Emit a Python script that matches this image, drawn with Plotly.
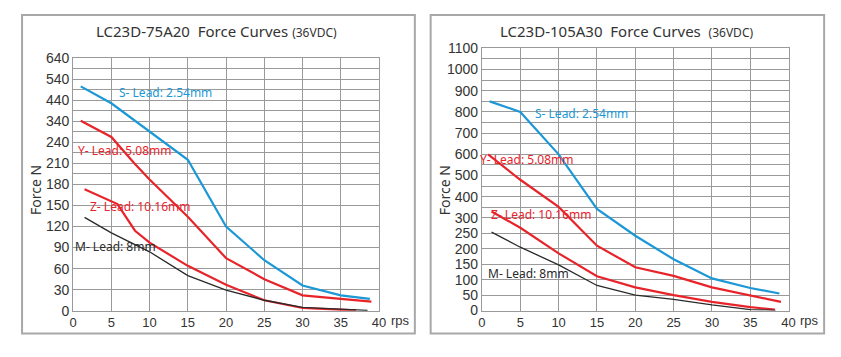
import numpy as np
import plotly.graph_objects as go

# ---------------- data ----------------
L_TICKS = [0, 30, 60, 90, 120, 150, 180, 210, 240, 340, 440, 540, 640]
R_TICKS = [0, 50, 100, 150, 200, 250, 300, 400, 500, 600, 700, 800, 900, 1000, 1100]
X_TICKS = [0, 5, 10, 15, 20, 25, 30, 35, 40]

# Left chart: LC23D-75A20
l_s_x = [1, 5, 15, 20, 25, 30, 35, 38.8]
l_s_y = [505, 425, 215, 120, 72, 36, 22, 17]
l_y_x = [1, 5, 8, 10, 15, 20, 25, 30, 35, 39]
l_y_y = [342, 265, 210, 187, 134, 75, 45, 22, 17, 13]
l_z_x = [1.5, 5.8, 8.1, 10, 15, 20, 25, 30, 37]
l_z_y = [173, 152, 114, 97, 64, 37, 15, 4, 0.5]
l_m_x = [1.5, 5, 10, 15, 20, 25, 30, 38.5]
l_m_y = [133, 111, 84, 50, 29.5, 15, 5, 0.5]

# Right chart: LC23D-105A30
r_s_x = [1, 5, 10, 15, 20, 25, 30, 35, 38.8]
r_s_y = [850, 800, 600, 342, 242, 166, 104, 73, 55]
r_y_x = [0.8, 5, 10, 15, 20, 25, 30, 35, 39]
r_y_y = [600, 480, 352, 210, 140, 112, 75, 49, 28]
r_z_x = [1.25, 5, 10, 15, 20, 25, 30, 35, 38.2]
r_z_y = [330, 268, 185, 111, 75, 50, 28, 11, 3]
r_m_x = [1.25, 5, 10, 15, 20, 25, 30, 35, 38.3]
r_m_y = [254, 205, 148, 81, 50, 36, 18, 3, 0.5]

LABELS = ["S- Lead: 2.54mm", "Y- Lead: 5.08mm", "Z- Lead: 10.16mm", "M- Lead: 8mm"]

# ---------------- scales (piecewise axis) ----------------
L_POS = list(range(len(L_TICKS)))
R_STEP_UP = 1.372
R_POS = [0, 1, 2, 3, 4, 5, 6] + [6 + R_STEP_UP * k for k in range(1, 9)]


def lmap(v):
    return np.interp(np.asarray(v, dtype=float), L_TICKS, L_POS)


def rmap(v):
    return np.interp(np.asarray(v, dtype=float), R_TICKS, R_POS)


BLUE = "#1b98d5"
RED = "#e8242b"
BLACK = "#2a2a2a"
GRID = "#9a9a9a"
TXT = "#333333"

W, H = 841, 357


def px(x):
    return x / W


def py(y):
    return 1 - y / H


fig = go.Figure()

series = [
    ("x", "y", l_s_x, lmap(l_s_y), BLUE, 2.2),
    ("x", "y", l_y_x, lmap(l_y_y), RED, 2.2),
    ("x", "y", l_z_x, lmap(l_z_y), RED, 2.2),
    ("x", "y", l_m_x, lmap(l_m_y), BLACK, 1.3),
    ("x2", "y2", r_s_x, rmap(r_s_y), BLUE, 2.2),
    ("x2", "y2", r_y_x, rmap(r_y_y), RED, 2.2),
    ("x2", "y2", r_z_x, rmap(r_z_y), RED, 2.2),
    ("x2", "y2", r_m_x, rmap(r_m_y), BLACK, 1.3),
]
for xa, ya, xs, ys, c, w in series:
    fig.add_trace(go.Scatter(x=xs, y=ys, xaxis=xa, yaxis=ya, mode="lines",
                             line=dict(color=c, width=w), showlegend=False,
                             hoverinfo="skip"))

tickfont = dict(family="Liberation Sans, Arial, sans-serif", size=13, color=TXT)
ytickfont = dict(family="Liberation Sans, Arial, sans-serif", size=14, color=TXT)

xcommon = dict(range=[0, 40], tickvals=X_TICKS, ticktext=[str(v) for v in X_TICKS],
               showgrid=True, gridcolor=GRID, gridwidth=1, zeroline=False,
               showline=True, linecolor=GRID, linewidth=1, mirror=True,
               ticks="", tickfont=tickfont, fixedrange=True)

l_half = [p + 0.5 for p in range(6, 12)]
r_half = [6 + R_STEP_UP * (k + 0.5) for k in range(0, 8)]

fig.update_layout(
    width=W, height=H, margin=dict(l=0, r=0, t=0, b=0),
    paper_bgcolor="white", plot_bgcolor="white",
    xaxis=dict(domain=[px(70), px(380)], anchor="y", **xcommon),
    yaxis=dict(domain=[py(317), py(52.3)], anchor="x", range=[0, L_POS[-1]],
               tickvals=L_POS, ticktext=[str(v) for v in L_TICKS],
               showgrid=True, gridcolor=GRID, gridwidth=1, zeroline=False,
               showline=True, linecolor=GRID, linewidth=1, mirror=True,
               ticks="", tickfont=ytickfont, fixedrange=True,
               minor=dict(tickvals=l_half, showgrid=True, gridcolor=GRID, gridwidth=1)),
    xaxis2=dict(domain=[px(484.3), px(795)], anchor="y2", **xcommon),
    yaxis2=dict(domain=[py(316.7), py(42.3)], anchor="x2", range=[0, R_POS[-1]],
                tickvals=R_POS, ticktext=[str(v) for v in R_TICKS],
                showgrid=True, gridcolor=GRID, gridwidth=1, zeroline=False,
                showline=True, linecolor=GRID, linewidth=1, mirror=True,
                ticks="", tickfont=ytickfont, fixedrange=True,
                minor=dict(tickvals=r_half, showgrid=True, gridcolor=GRID, gridwidth=1)),
)

# outer frames
for x0, x1 in [(18.3, 416.3), (432.3, 831)]:
    fig.add_shape(type="rect", xref="paper", yref="paper",
                  x0=px(x0), x1=px(x1), y0=py(340.7), y1=py(7.3),
                  line=dict(color="#a8a8a8", width=2), layer="below")

lab_font = "Noto Sans, Open Sans, sans-serif"
# series labels (data coordinates)
ann_specs = [
    ("x", "y", 6.2, lmap(478), LABELS[0], BLUE),
    ("x", "y", 0.9, lmap(228), LABELS[1], RED),
    ("x", "y", 2.45, lmap(148), LABELS[2], RED),
    ("x", "y", 0.5, lmap(91), LABELS[3], BLACK),
    ("x2", "y2", 7.17, rmap(795), LABELS[0], BLUE),
    ("x2", "y2", 0.0, rmap(575), LABELS[1], RED),
    ("x2", "y2", 1.38, rmap(316), LABELS[2], RED),
    ("x2", "y2", 1.08, rmap(120), LABELS[3], BLACK),
]
for xa, ya, xv, yv, t, c in ann_specs:
    fig.add_annotation(x=xv, y=float(yv), xref=xa, yref=ya, text=t, showarrow=False,
                       xanchor="left", yanchor="middle", xshift=-4,
                       font=dict(family=lab_font, size=12, color=c))

# titles
titles = [
    (215, "LC23D-75A20  Force Curves <span style='font-size:12px'>(36VDC)</span>"),
    (630.5, "LC23D-105A30  Force Curves&nbsp;&nbsp;<span style='font-size:12px'>(36VDC)</span>"),
]
for cx, t in titles:
    fig.add_annotation(x=px(cx), y=py(24), xref="paper", yref="paper", text=t,
                       showarrow=False, xanchor="center", yanchor="middle",
                       font=dict(family=lab_font, size=15, color=TXT))

# axis titles
for fx, rx in [(32, 401.7), (446.7, 816.3)]:
    fig.add_annotation(x=px(fx), y=py(191), xref="paper", yref="paper", text="Force N",
                       showarrow=False, textangle=-90, xanchor="center", yanchor="middle",
                       font=dict(family=lab_font, size=14, color=TXT))
    fig.add_annotation(x=px(rx), y=py(327.5), xref="paper", yref="paper", text="rps",
                       showarrow=False, xanchor="center", yanchor="middle",
                       font=dict(family="Liberation Sans, Arial, sans-serif", size=13, color=TXT))

fig.write_html("out.html", config={"displayModeBar": False},
               post_script="document.body.style.margin='0';document.body.style.overflow='hidden';")
